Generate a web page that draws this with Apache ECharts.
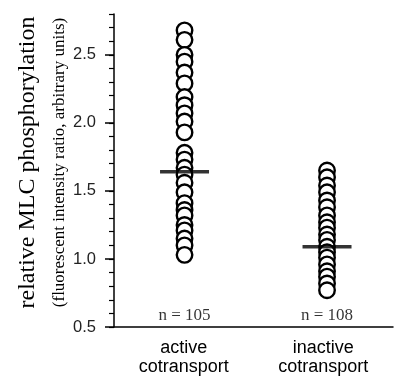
<!DOCTYPE html>
<html lang="en">
<head>
    <meta charset="UTF-8">
    <title>MLC phosphorylation</title>
    <style>
        html, body { margin: 0; padding: 0; background: #fff; }
        #container { width: 395px; height: 381px; }
    </style>
</head>
<body>
<div id="container"></div>
<script type="text/javascript" src="https://cdn.jsdelivr.net/npm/echarts@6/dist/echarts.min.js"></script>
<script type="text/javascript">
    // groups on the x axis
    var categories = ['active\ncotransport', 'inactive\ncotransport'];
    var nLabels = ['n = 105', 'n = 108'];

    // individual cells (only the circles that can be told apart)
    var activeValues = [2.68, 2.61, 2.50, 2.45, 2.37, 2.29, 2.19, 2.13, 2.07, 2.01, 1.93,
        1.78, 1.73, 1.67, 1.62, 1.56, 1.49, 1.41, 1.36, 1.32, 1.25, 1.21, 1.15, 1.10, 1.03];
    var inactiveValues = [1.65, 1.60, 1.54, 1.49, 1.43, 1.38, 1.32, 1.27, 1.23, 1.18,
        1.14, 1.09, 1.05, 1.01, 0.96, 0.91, 0.87, 0.82, 0.77];

    // mean bars
    var means = [1.64, 1.09];

    var yMin = 0.5, yMax = 2.8;

    var dom = document.getElementById('container');
    var myChart = echarts.init(dom);
    var option;

    var points = [];
    activeValues.forEach(function (v) { points.push([0, v]); });
    inactiveValues.forEach(function (v) { points.push([1, v]); });

    var meanData = means.map(function (v, i) { return [i, v]; });
    var nData = nLabels.map(function (t, i) { return { value: [i, yMin], name: t }; });

    option = {
        animation: false,
        grid: {
            left: 114,
            right: 2,
            top: 14,
            bottom: 54
        },
        xAxis: [
            {
                type: 'category',
                data: categories,
                axisLine: { onZero: false, lineStyle: { color: '#000', width: 1.5 } },
                axisTick: { show: false },
                axisLabel: {
                    color: '#000',
                    fontFamily: 'Liberation Sans',
                    fontSize: 18,
                    lineHeight: 19,
                    margin: 12
                }
            },
            {
                // hidden axis that places the two columns
                type: 'value',
                min: -0.495,
                max: 1.463,
                show: false,
                position: 'bottom'
            }
        ],
        yAxis: [
            {
                type: 'value',
                min: yMin,
                max: yMax,
                interval: 0.5,
                position: 'left',
                splitLine: { show: false },
                axisLine: { show: true, onZero: false, lineStyle: { color: '#000', width: 1.5 } },
                axisTick: { show: true, length: 9, lineStyle: { color: '#000', width: 1.5 } },
                axisLabel: {
                    color: '#222',
                    fontFamily: 'Liberation Sans',
                    fontSize: 16.5,
                    margin: 18,
                    showMaxLabel: false,
                    formatter: function (v) { return v.toFixed(1); }
                },
                name: '{a|relative MLC phosphorylation}\n{b|(fluorescent intensity ratio, arbitrary units)}',
                nameLocation: 'middle',
                nameGap: 44,
                nameMoveOverlap: false,
                nameRotate: 90,
                nameTextStyle: {
                    color: '#000',
                    fontFamily: 'Liberation Serif',
                    padding: [0, 0, 0, 16],
                    rich: {
                        a: { fontFamily: 'Liberation Serif', fontSize: 24, lineHeight: 44, color: '#000' },
                        b: { fontFamily: 'Liberation Serif', fontSize: 17, lineHeight: 20, color: '#000' }
                    }
                }
            },
            {
                // minor ticks
                type: 'value',
                min: yMin,
                max: yMax,
                interval: 0.1,
                position: 'left',
                splitLine: { show: false },
                axisLine: { show: false, onZero: false },
                axisLabel: { show: false },
                axisTick: { show: true, length: 5, lineStyle: { color: '#000', width: 1.2 } }
            }
        ],
        series: [
            {
                type: 'scatter',
                xAxisIndex: 1,
                data: points,
                symbol: 'circle',
                symbolSize: 15.5,
                itemStyle: { color: '#fff', borderColor: '#000', borderWidth: 2.4, opacity: 1 },
                z: 2
            },
            {
                type: 'scatter',
                xAxisIndex: 1,
                data: meanData,
                symbol: 'rect',
                symbolSize: [49, 3.5],
                itemStyle: { color: '#000' },
                z: 3
            },
            {
                type: 'scatter',
                xAxisIndex: 1,
                data: nData,
                symbolSize: 0,
                label: {
                    show: true,
                    position: 'top',
                    distance: 3,
                    formatter: function (p) { return p.name; },
                    color: '#000',
                    fontFamily: 'Liberation Serif',
                    fontSize: 17
                },
                z: 4
            }
        ]
    };

    if (option && typeof option === 'object') {
        myChart.setOption(option);
    }
</script>
</body>
</html>
